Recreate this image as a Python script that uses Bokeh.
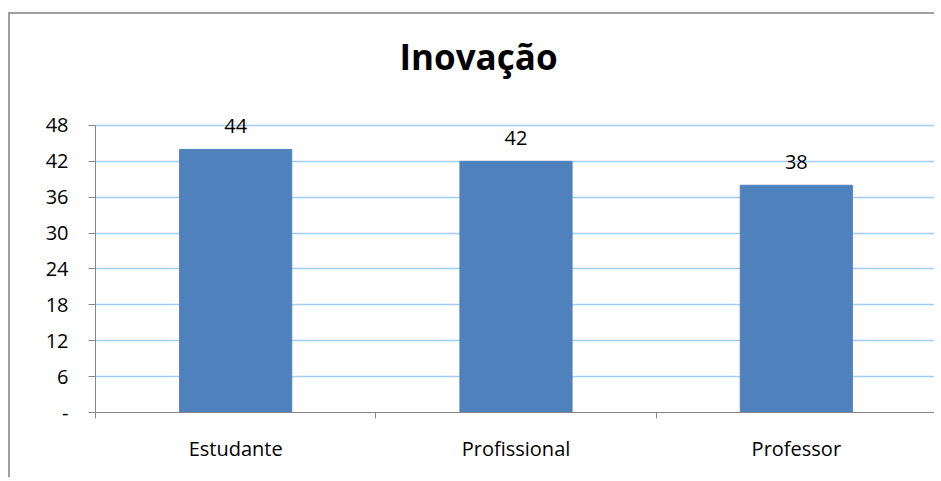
from bokeh.plotting import figure
from bokeh.models import ColumnDataSource, FixedTicker, LabelSet, Label, Range1d
from bokeh.core.properties import value
from bokeh.embed import file_html
from bokeh.resources import INLINE

categories = ["Estudante", "Profissional", "Professor"]
values = [44, 42, 38]
y_ticks = [0, 6, 12, 18, 24, 30, 36, 42, 48]
title_text = "Inovação"

FONT = "Open Sans"
positions = [i + 0.5 for i in range(len(categories))]
src = ColumnDataSource(dict(x=positions, top=values, label=[str(v) for v in values]))

Y_MAX = 48
Y_VIEW = 66.56  # frame extends up to the top border so labels are not clipped

p = figure(width=926, height=465, output_backend="svg", toolbar_location=None,
           x_range=Range1d(0, len(categories)), y_range=Range1d(0, Y_VIEW),
           min_border_left=85, min_border_top=0, min_border_right=0, min_border_bottom=67,
           margin=(12, 0, 0, 8),
           styles={"border-top": "2px solid #A0A0A0", "border-left": "2px solid #A0A0A0"})
p.outline_line_color = None
p.background_fill_color = "white"
p.border_fill_color = "white"

p.vbar(x="x", top="top", width=0.4, source=src, color="#4F81BD")

labels = LabelSet(x="x", y="top", text="label", source=src, text_align="center",
                  text_baseline="alphabetic", y_offset=16, text_font=value(FONT),
                  text_font_size="20px", text_color="black")
p.add_layout(labels)

title = Label(x=383, x_units="screen", y=59.5, y_units="data", text=title_text,
              text_align="center", text_baseline="alphabetic", text_font=FONT,
              text_font_size="35px", text_font_style="bold", text_color="black")
p.add_layout(title)

# y axis
p.yaxis.ticker = FixedTicker(ticks=y_ticks)
p.yaxis.bounds = (0, Y_MAX)
p.yaxis.major_label_overrides = {0: "-"}
p.yaxis.major_label_text_font = FONT
p.yaxis.major_label_text_font_size = "20px"
p.yaxis.major_label_text_color = "black"
p.yaxis.axis_line_color = "#868686"
p.yaxis.major_tick_line_color = "#868686"
p.yaxis.major_tick_out = 7
p.yaxis.major_tick_in = 0
p.yaxis.minor_tick_line_color = None
p.yaxis.major_label_standoff = 20

# x axis
p.xaxis.ticker = FixedTicker(ticks=positions, minor_ticks=list(range(len(categories) + 1)))
p.xaxis.major_label_overrides = {pos: c for pos, c in zip(positions, categories)}
p.xaxis.major_label_text_font = FONT
p.xaxis.major_label_text_font_size = "20px"
p.xaxis.major_label_text_color = "black"
p.xaxis.axis_line_color = "#868686"
p.xaxis.major_tick_line_color = None
p.xaxis.major_tick_out = 6
p.xaxis.major_tick_in = 0
p.xaxis.minor_tick_line_color = "#868686"
p.xaxis.minor_tick_out = 6
p.xaxis.minor_tick_in = 0
p.xaxis.major_label_standoff = 16

p.xgrid.grid_line_color = None
p.ygrid.grid_line_color = "#A5CCF2"
p.ygrid.grid_line_width = 1.5

open("out.html", "w").write(file_html(p, INLINE))
